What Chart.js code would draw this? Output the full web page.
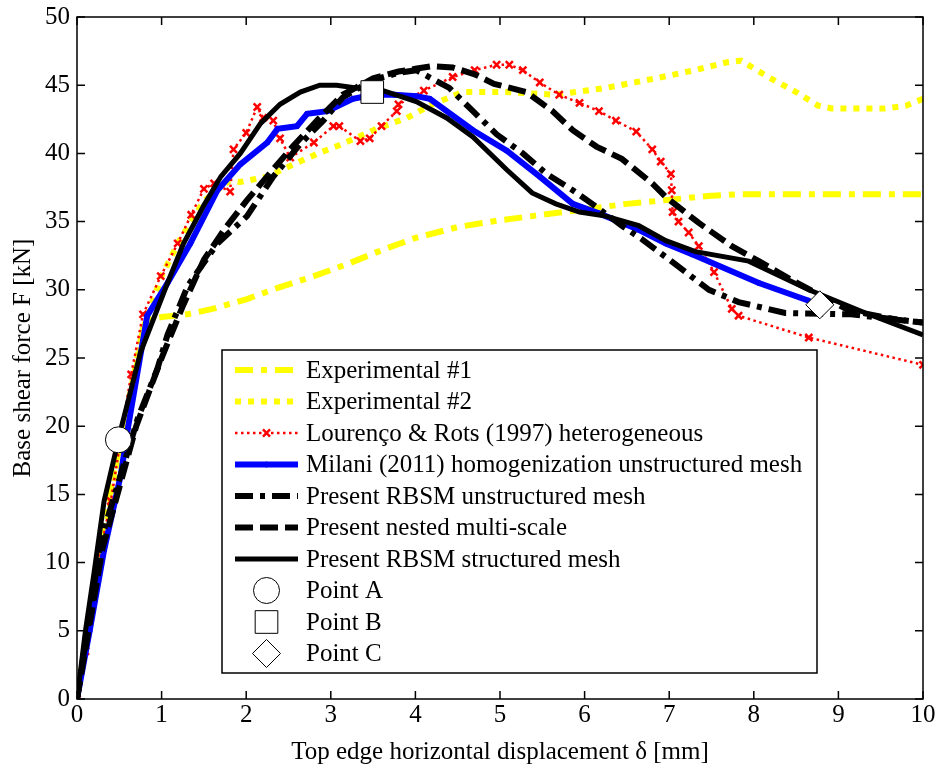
<!DOCTYPE html>
<html>
<head>
<meta charset="utf-8">
<script src="https://cdn.jsdelivr.net/npm/chart.js@4.4.1/dist/chart.umd.min.js"></script>
<style>
  html, body { margin: 0; padding: 0; background: #fff; }
  #wrap { width: 940px; height: 769px; }
</style>
</head>
<body>
<div id="wrap"><canvas id="chart" width="940" height="769"></canvas></div>
<script>
// ==========================
// DATA
// ==========================
const xTicks = [0, 1, 2, 3, 4, 5, 6, 7, 8, 9, 10];
const yTicks = [0, 5, 10, 15, 20, 25, 30, 35, 40, 45, 50];

const legendLabels = [
  "Experimental #1",
  "Experimental #2",
  "Lourenço & Rots (1997) heterogeneous",
  "Milani (2011) homogenization unstructured mesh",
  "Present RBSM unstructured mesh",
  "Present nested multi-scale",
  "Present RBSM structured mesh",
  "Point A",
  "Point B",
  "Point C"
];

const exp1X = [0, 0.2, 0.4, 0.6, 0.8, 1.0, 1.3, 1.6, 2.0, 2.4, 2.8, 3.2, 3.6, 4.0, 4.5, 5.0, 5.5, 6.0, 6.5, 7.0, 7.5, 7.8, 8.5, 9.0, 9.5, 10];
const exp1Y = [0, 8.5, 15.5, 21.5, 27.8, 28.0, 28.2, 28.6, 29.3, 30.2, 31.0, 31.9, 32.9, 33.8, 34.6, 35.1, 35.5, 35.9, 36.3, 36.6, 36.9, 37.0, 37.0, 37.0, 37.0, 37.0];

const exp2X = [0, 0.2, 0.4, 0.6, 0.8, 1.0, 1.2, 1.5, 1.8, 1.93, 2.25, 2.56, 2.85, 3.14, 3.54, 3.9, 4.2, 4.56, 5.08, 5.66, 6.25, 6.84, 7.3, 7.7, 7.85, 8.17, 8.5, 8.76, 8.92, 9.2, 9.55, 9.8, 10];
const exp2Y = [0, 8, 14.5, 21, 27.5, 31, 33.5, 36.5, 38.0, 37.9, 38.3, 39.2, 40.0, 40.7, 41.8, 42.6, 43.6, 44.5, 44.5, 44.3, 44.8, 45.5, 46.1, 46.7, 46.8, 45.6, 44.5, 43.5, 43.3, 43.3, 43.3, 43.5, 44.0];

const lourX = [0, 0.1, 0.28, 0.4, 0.5, 0.64, 0.78, 0.99, 1.19, 1.35, 1.5, 1.62, 1.81, 1.85, 2.0, 2.13, 2.2, 2.32, 2.4, 2.52, 2.8, 3.03, 3.1, 3.35, 3.46, 3.6, 3.78, 3.8, 4.1, 4.44, 4.7, 4.96, 5.11, 5.27, 5.47, 5.7, 5.94, 6.17, 6.37, 6.61, 6.8, 6.9, 7.02, 7.03, 7.04, 7.11, 7.23, 7.35, 7.53, 7.74, 7.82, 8.65, 10];
const lourY = [0, 3.5, 10.9, 14.5, 18.4, 23.8, 28.2, 31.0, 33.4, 35.5, 37.4, 37.8, 37.2, 40.3, 41.5, 43.4, 42.6, 42.4, 41.1, 39.7, 40.8, 42.0, 42.0, 40.9, 41.1, 42.0, 43.1, 43.6, 44.6, 45.6, 46.1, 46.5, 46.5, 46.1, 45.2, 44.3, 43.7, 43.1, 42.4, 41.6, 40.3, 39.4, 38.5, 37.3, 35.7, 35.0, 34.2, 33.2, 31.3, 28.6, 28.1, 26.5, 24.5];

const milaniX = [0, 0.15, 0.32, 0.52, 0.6, 0.83, 1.07, 1.34, 1.66, 1.93, 2.25, 2.37, 2.6, 2.72, 2.96, 3.26, 3.5, 3.75, 4.01, 4.17, 4.68, 5.08, 5.47, 5.86, 6.17, 6.64, 6.96, 7.27, 8.06, 8.65];
const milaniY = [0, 5, 10.9, 16.5, 19.8, 28.1, 30.5, 33.4, 37.3, 39.2, 40.8, 41.8, 42.0, 42.9, 43.1, 44.0, 44.3, 44.3, 44.2, 44.0, 41.7, 40.2, 38.3, 36.3, 35.6, 34.4, 33.4, 32.6, 30.5, 29.2];

const unstrX = [0, 0.28, 0.52, 0.72, 0.95, 1.07, 1.31, 1.66, 2.01, 2.32, 2.64, 2.91, 3.14, 3.5, 3.8, 4.01, 4.4, 4.68, 4.96, 5.27, 5.55, 5.86, 6.09, 6.44, 6.68, 7.11, 7.47, 7.82, 8.37, 9.15, 10];
const unstrY = [0, 11.6, 16.5, 20.6, 24.2, 26.7, 30.3, 33.4, 35.4, 38.3, 40.7, 42.4, 44.1, 45.4, 45.9, 46.1, 44.8, 43.1, 41.4, 40.0, 38.5, 37.3, 36.3, 34.7, 33.7, 31.7, 30.0, 29.1, 28.3, 28.2, 27.6];

const nestedX = [0, 0.3, 0.5, 0.7, 1.0, 1.25, 1.5, 1.75, 2.0, 2.3, 2.55, 2.85, 3.14, 3.5, 3.8, 4.0, 4.2, 4.44, 4.7, 4.93, 5.31, 5.62, 5.86, 6.14, 6.44, 6.8, 6.96, 7.35, 7.74, 8.06, 8.45, 8.73, 9.12, 9.7, 10];
const nestedY = [0, 11, 15.5, 20, 25, 28.8, 32.2, 34.5, 36.5, 38.7, 40.5, 42.5, 44.3, 45.5, 46.0, 46.2, 46.4, 46.3, 45.8, 45.1, 44.5, 43.1, 41.7, 40.5, 39.6, 37.8, 36.8, 34.9, 33.2, 32.1, 30.7, 29.8, 28.5, 27.8, 27.6];

const strX = [0, 0.1, 0.2, 0.32, 0.52, 0.75, 1.07, 1.26, 1.5, 1.7, 1.93, 2.17, 2.4, 2.64, 2.87, 3.07, 3.3, 3.62, 4.01, 4.37, 4.68, 5.08, 5.38, 5.66, 5.94, 6.25, 6.64, 6.96, 7.31, 7.94, 8.65, 9.32, 10];
const strY = [0, 5, 9.2, 14.5, 19.8, 25.4, 30.5, 33.4, 36.2, 38.3, 40.0, 42.2, 43.6, 44.5, 45.0, 45.0, 44.8, 44.6, 43.8, 42.6, 41.2, 38.8, 37.1, 36.3, 35.7, 35.4, 34.7, 33.6, 32.8, 32.1, 30.0, 28.3, 26.7];

const pointAX = [0.49], pointAY = [19.0];
const pointBX = [3.49], pointBY = [44.5];
const pointCX = [8.78], pointCY = [28.9];

// ==========================
// HELPER
// ==========================
function pts(xs, ys) {
  return xs.map((x, i) => ({ x: x, y: ys[i] }));
}

function lineSet(i, xs, ys, color, width, dash, extra) {
  return Object.assign({
    label: legendLabels[i],
    data: pts(xs, ys),
    borderColor: color,
    backgroundColor: color,
    borderWidth: width,
    borderDash: dash,
    borderCapStyle: "butt",
    pointRadius: 0,
    tension: 0,
    fill: false
  }, extra || {});
}

function markerSet(i, xs, ys, style, radius) {
  return {
    label: legendLabels[i],
    data: pts(xs, ys),
    showLine: false,
    pointStyle: style,
    pointRadius: radius,
    pointBorderWidth: 1,
    pointBorderColor: "#000",
    pointBackgroundColor: "#fff",
    borderColor: "#000",
    backgroundColor: "#fff",
    order: 0
  };
}

const datasets = [
  lineSet(0, exp1X, exp1Y, "#ffff00", 6, [18, 8, 6, 8], { order: 8 }),
  lineSet(1, exp2X, exp2Y, "#ffff00", 6, [6, 7], { order: 7 }),
  lineSet(2, lourX, lourY, "#ff0000", 2.5, [2.5, 3.5], {
    order: 6, pointRadius: 5, pointStyle: "crossRot", pointBorderWidth: 2.5,
    pointBorderColor: "#ff0000"
  }),
  lineSet(3, milaniX, milaniY, "#0000ff", 6, [], {
    order: 5, pointRadius: 2.5, pointStyle: "circle", pointBorderWidth: 1,
    pointBorderColor: "#0000ff", pointBackgroundColor: "#0000ff"
  }),
  lineSet(4, unstrX, unstrY, "#000000", 6, [18, 7, 5, 7], { order: 3 }),
  lineSet(5, nestedX, nestedY, "#000000", 6, [18, 7], { order: 4 }),
  lineSet(6, strX, strY, "#000000", 5, [], { order: 2 }),
  markerSet(7, pointAX, pointAY, "circle", 13),
  markerSet(8, pointBX, pointBY, "rect", 16),
  markerSet(9, pointCX, pointCY, "rectRot", 14)
];

// ==========================
// FRAME + LEGEND (MATLAB style)
// ==========================
const framePlugin = {
  id: "frame",
  afterDraw(chart) {
    const { ctx, chartArea: a, scales } = chart;
    const sx = scales.x, sy = scales.y;
    ctx.save();

    // box + inward ticks
    ctx.strokeStyle = "#000";
    ctx.lineWidth = 1.5;
    ctx.setLineDash([]);
    ctx.strokeRect(a.left, a.top, a.right - a.left, a.bottom - a.top);
    ctx.beginPath();
    xTicks.forEach(v => {
      const px = sx.getPixelForValue(v);
      ctx.moveTo(px, a.bottom); ctx.lineTo(px, a.bottom - 8);
      ctx.moveTo(px, a.top); ctx.lineTo(px, a.top + 8);
    });
    yTicks.forEach(v => {
      const py = sy.getPixelForValue(v);
      ctx.moveTo(a.left, py); ctx.lineTo(a.left + 8, py);
      ctx.moveTo(a.right, py); ctx.lineTo(a.right - 8, py);
    });
    ctx.stroke();

    // legend box
    const bx = 222, by = 350, bw = 595, bh = 323;
    ctx.fillStyle = "#fff";
    ctx.fillRect(bx, by, bw, bh);
    ctx.lineWidth = 1.5;
    ctx.strokeRect(bx, by, bw, bh);

    ctx.font = "25px 'Liberation Serif', 'Times New Roman', serif";
    ctx.textBaseline = "middle";
    ctx.textAlign = "left";

    chart.data.datasets.forEach((ds, i) => {
      const rowY = by + 20 + i * 31.5;
      const x1 = 235, x2 = 298, cx = (x1 + x2) / 2;
      if (ds.showLine !== false) {
        ctx.beginPath();
        ctx.strokeStyle = ds.borderColor;
        ctx.lineWidth = ds.borderWidth;
        ctx.lineCap = "butt";
        ctx.setLineDash(ds.borderDash || []);
        ctx.moveTo(x1, rowY);
        ctx.lineTo(x2, rowY);
        ctx.stroke();
        ctx.setLineDash([]);
      }
      if (ds.pointRadius > 0) {
        ctx.strokeStyle = ds.pointBorderColor || ds.borderColor;
        ctx.fillStyle = ds.pointBackgroundColor || ds.backgroundColor;
        ctx.lineWidth = ds.pointBorderWidth || 1;
        Chart.helpers.drawPoint(ctx, {
          pointStyle: ds.pointStyle,
          radius: ds.pointRadius,
          borderWidth: ds.pointBorderWidth || 1,
          rotation: 0
        }, cx, rowY);
      }
      ctx.fillStyle = "#000";
      ctx.fillText(ds.label, 306, rowY + 1);
    });

    ctx.restore();
  }
};

// ==========================
// CHART
// ==========================
Chart.defaults.font.family = "'Liberation Serif', 'Times New Roman', serif";
Chart.defaults.font.size = 25;
Chart.defaults.color = "#000";

new Chart(document.getElementById("chart"), {
  type: "line",
  data: { datasets: datasets },
  options: {
    responsive: false,
    animation: false,
    devicePixelRatio: 1,
    layout: { padding: { top: 10, right: 13, left: 0, bottom: 0 } },
    plugins: {
      legend: { display: false },
      tooltip: { enabled: false }
    },
    scales: {
      x: {
        type: "linear",
        min: 0,
        max: 10,
        afterFit: s => { s.height = 70; s.paddingLeft = 0; s.paddingRight = 0; },
        afterBuildTicks: s => { s.ticks = xTicks.map(v => ({ value: v })); },
        grid: { display: false, drawTicks: false },
        border: { display: false },
        ticks: { padding: 4, maxRotation: 0, autoSkip: false, font: { lineHeight: 1 } },
        title: {
          display: true,
          text: "Top edge horizontal displacement δ [mm]",
          font: { size: 25 },
          padding: { top: 0, bottom: 2 }
        }
      },
      y: {
        min: 0,
        max: 50,
        afterFit: s => { s.width = 77; s.paddingTop = 0; s.paddingBottom = 0; },
        afterBuildTicks: s => { s.ticks = yTicks.map(v => ({ value: v })); },
        grid: { display: false, drawTicks: false },
        border: { display: false },
        ticks: { padding: 7, autoSkip: false, font: { lineHeight: 1 } },
        title: {
          display: true,
          text: "Base shear force F [kN]",
          font: { size: 25 },
          padding: { top: 8, bottom: 0 }
        }
      }
    }
  },
  plugins: [framePlugin]
});
</script>
</body>
</html>
